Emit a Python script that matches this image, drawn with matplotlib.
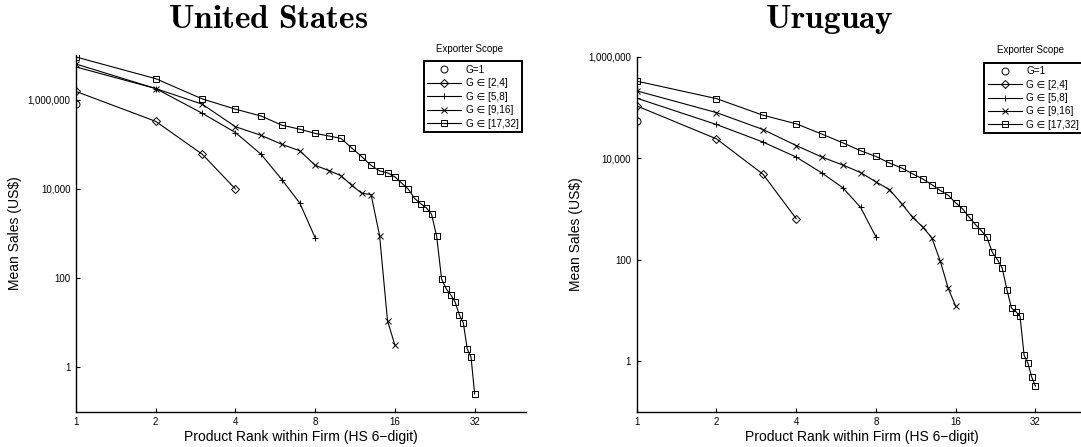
import matplotlib
matplotlib.use("Agg")
import matplotlib.pyplot as plt

plt.rcParams["font.family"] = ["Liberation Sans", "DejaVu Sans"]
plt.rcParams["mathtext.fontset"] = "cm"

group_labels = ["G=1", "G \u2208 [2,4]", "G \u2208 [5,8]", "G \u2208 [9,16]", "G \u2208 [17,32]"]
group_markers = ["o", "D", "+", "x", "s"]

# United States: mean sales by product rank, one list per exporter-scope group
us_g1 = [8.1e5]
us_g2_4 = [1.55e6, 3.3e5, 6.0e4, 1.0e4]
us_g5_8 = [5.5e6, 1.8e6, 5.0e5, 1.85e5, 6.0e4, 1.6e4, 4.8e3, 8.0e2]
us_g9_16 = [6.4e6, 1.8e6, 8.0e5, 2.5e5, 1.6e5, 1.0e5, 7.2e4, 3.4e4,
            2.6e4, 2.0e4, 1.2e4, 8.0e3, 7.5e3, 9.0e2, 11, 3.1]
us_g17_32 = [9.2e6, 3.0e6, 1.05e6, 6.2e5, 4.35e5, 2.7e5, 2.2e5, 1.77e5,
             1.55e5, 1.37e5, 8.3e4, 5.3e4, 3.4e4, 2.55e4, 2.3e4, 1.87e4,
             1.34e4, 9.8e3, 6.1e3, 4.7e3, 3.8e3, 2.7e3, 8.6e2, 95,
             57, 42, 29, 15, 9.8, 2.55, 1.68, 0.25]

# Uruguay
uy_g1 = [5.4e4]
uy_g2_4 = [1.07e5, 2.4e4, 4.8e3, 6.4e2]
uy_g5_8 = [1.52e5, 4.6e4, 2.07e4, 1.05e4, 5.1e3, 2.6e3, 1.07e3, 2.8e2]
uy_g9_16 = [2.12e5, 7.9e4, 3.66e4, 1.77e4, 1.05e4, 7.3e3, 5.2e3, 3.4e3,
            2.4e3, 1.27e3, 6.8e2, 4.4e2, 2.7e2, 93, 27, 12]
uy_g17_32 = [3.3e5, 1.49e5, 7.0e4, 4.75e4, 2.98e4, 2.0e4, 1.4e4, 1.08e4,
             8.0e3, 6.4e3, 4.9e3, 3.9e3, 3.0e3, 2.3e3, 1.85e3, 1.31e3,
             1.0e3, 6.8e2, 4.9e2, 3.7e2, 2.75e2, 1.39e2, 1.0e2, 67,
             25, 11, 9.4, 7.7, 1.3, 0.9, 0.48, 0.32]

x_ticks = [1, 2, 4, 8, 16, 32]
y_ticks = [1, 100, 10000, 1000000]
y_tick_labels = ["1", "100", "10,000", "1,000,000"]

fig = plt.figure(figsize=(10.81, 4.47), dpi=100)
ax_us = fig.add_axes([0.0703, 0.079, 0.4163, 0.7971])
ax_uy = fig.add_axes([0.589, 0.079, 0.4163, 0.7942])


def draw_panel(ax, series, ylim):
    for vals, marker, label in zip(series, group_markers, group_labels):
        ranks = list(range(1, len(vals) + 1))
        ms = 5.0 if marker in ("o", "s") else 4.5
        if marker == "D":
            ms = 4.0
        ax.plot(ranks, vals, color="black", lw=0.8, marker=marker,
                markersize=ms, markerfacecolor="none", markeredgecolor="black",
                markeredgewidth=0.7,
                linestyle="-" if len(vals) > 1 else "none", label=label)
    ax.set_xscale("log", base=2)
    ax.set_yscale("log")
    ax.set_xlim(1, 50)
    ax.set_ylim(*ylim)
    ax.set_xticks(x_ticks)
    ax.set_xticklabels([str(t) for t in x_ticks])
    ax.set_yticks(y_ticks)
    ax.set_yticklabels(y_tick_labels)
    ax.minorticks_off()
    ax.tick_params(direction="in", length=3, width=0.8, labelsize=7, pad=4)
    ax.spines["top"].set_visible(False)
    ax.spines["right"].set_visible(False)
    ax.spines["left"].set_linewidth(1.0)
    ax.spines["bottom"].set_linewidth(1.0)
    ax.set_xlabel("Product Rank within Firm (HS 6\u2212digit)", fontsize=10, labelpad=2)
    ax.set_ylabel("Mean Sales (US$)", fontsize=10, labelpad=4)
    leg = ax.legend(loc="upper right", bbox_to_anchor=(0.991, 0.983),
                    borderaxespad=0, fontsize=7.2, handlelength=3.4,
                    labelspacing=0.34, handletextpad=0.45, borderpad=0.35,
                    fancybox=False, framealpha=1, edgecolor="black")
    leg.get_frame().set_linewidth(1.4)
    ax.text(0.875, 1.005, "Exporter Scope", transform=ax.transAxes,
            ha="center", va="bottom", fontsize=7)


draw_panel(ax_us, [us_g1, us_g2_4, us_g5_8, us_g9_16, us_g17_32], (0.1, 1e7))
draw_panel(ax_uy, [uy_g1, uy_g2_4, uy_g5_8, uy_g9_16, uy_g17_32], (0.1, 1e6))

fig.text(268 / 1081, 1 - 28 / 447, r"$\mathbf{United\ States}$",
         ha="center", va="baseline", fontsize=24)
fig.text(829 / 1081, 1 - 28 / 447, r"$\mathbf{Uruguay}$",
         ha="center", va="baseline", fontsize=24)

fig.savefig("out.png", dpi=100)
